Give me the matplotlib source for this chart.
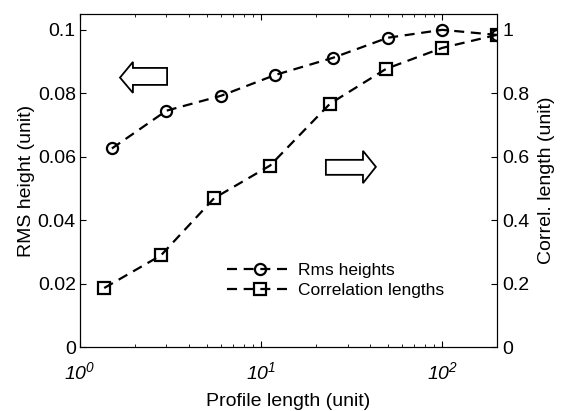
import matplotlib
matplotlib.use('Agg')
import matplotlib.pyplot as plt
from matplotlib.patches import Polygon
from matplotlib.ticker import LogLocator, NullFormatter

# Profile length sweeps (unit)
rms_len  = [1.5, 3.0, 6.0, 12.0, 25.0, 50.0, 100.0, 200.0]
rms_h    = [0.0626, 0.0745, 0.0792, 0.0858, 0.0912, 0.0975, 0.1000, 0.0984]
corr_len_x = [1.36, 2.8, 5.5, 11.2, 24.0, 49.0, 100.0, 200.0]
corr_len   = [0.186, 0.289, 0.469, 0.572, 0.767, 0.877, 0.943, 0.984]

left_ticks  = [0, 0.02, 0.04, 0.06, 0.08, 0.1]
left_labels = ['0', '0.02', '0.04', '0.06', '0.08', '0.1']
right_ticks  = [0, 0.2, 0.4, 0.6, 0.8, 1.0]
right_labels = ['0', '0.2', '0.4', '0.6', '0.8', '1']
x_ticks  = [1, 10, 100]
x_labels = [r'$10^{0}$', r'$10^{1}$', r'$10^{2}$']

plt.rcParams.update({
    'font.family': ['Liberation Sans', 'DejaVu Sans'],
    'mathtext.fontset': 'custom',
    'mathtext.rm': 'Liberation Sans:italic',
    'mathtext.it': 'Liberation Sans:italic',
    'xtick.direction': 'in',
    'ytick.direction': 'in',
})

FS = 14

fig = plt.figure(figsize=(5.69, 4.11), dpi=100)
ax = fig.add_axes([0.1406, 0.1557, 0.7324, 0.8103])
ax2 = ax.twinx()

line_kw = dict(color='black', linestyle='--', linewidth=1.6, dashes=(4.5, 3.0),
               markerfacecolor='none', markeredgecolor='black', markeredgewidth=1.6)

h1, = ax.plot(rms_len, rms_h, marker='o', markersize=8, label='Rms heights', **line_kw)
h2, = ax2.plot(corr_len_x, corr_len, marker='s', markersize=8,
               label='Correlation lengths', **line_kw)

ax.set_xscale('log')
ax.set_xlim(1, 200)
ax.set_ylim(0, 0.105)
ax2.set_ylim(0, 1.05)

ax.set_xticks(x_ticks)
ax.set_xticklabels(x_labels, fontsize=FS)
ax.xaxis.set_minor_locator(LogLocator(base=10, subs=range(2, 10)))
ax.xaxis.set_minor_formatter(NullFormatter())
ax.tick_params(axis='x', which='both', top=True, pad=10)
ax.tick_params(axis='x', which='major', length=4)
ax.tick_params(axis='x', which='minor', length=2.5)

ax.set_yticks(left_ticks)
ax.set_yticklabels(left_labels, fontsize=FS)
ax.tick_params(axis='y', length=4, pad=3)
ax2.set_yticks(right_ticks)
ax2.set_yticklabels(right_labels, fontsize=FS)
ax2.tick_params(axis='y', length=4, pad=4)

ax.set_xlabel('Profile length (unit)', fontsize=FS, labelpad=7)
ax.set_ylabel('RMS height (unit)', fontsize=FS, labelpad=2)
ax2.set_ylabel('Correl. length (unit)', fontsize=FS, labelpad=6)

# hollow block arrows pointing to each series' axis
left_arrow = [(0.096, 0.809), (0.127, 0.856), (0.127, 0.838), (0.209, 0.838),
              (0.209, 0.787), (0.127, 0.787), (0.127, 0.763)]
right_arrow = [(0.710, 0.541), (0.679, 0.589), (0.679, 0.562), (0.590, 0.562),
               (0.590, 0.517), (0.679, 0.517), (0.679, 0.492)]
for pts in (left_arrow, right_arrow):
    ax.add_patch(Polygon(pts, closed=True, fill=False, edgecolor='black',
                         linewidth=1.3, transform=ax.transAxes))

ax2.legend([h1, h2], ['Rms heights', 'Correlation lengths'], loc='lower left',
           bbox_to_anchor=(0.333, 0.12), frameon=False, fontsize=12.5,
           handlelength=3.8, handletextpad=0.25, labelspacing=0.3, borderpad=0)

fig.savefig('out.png', dpi=100)
